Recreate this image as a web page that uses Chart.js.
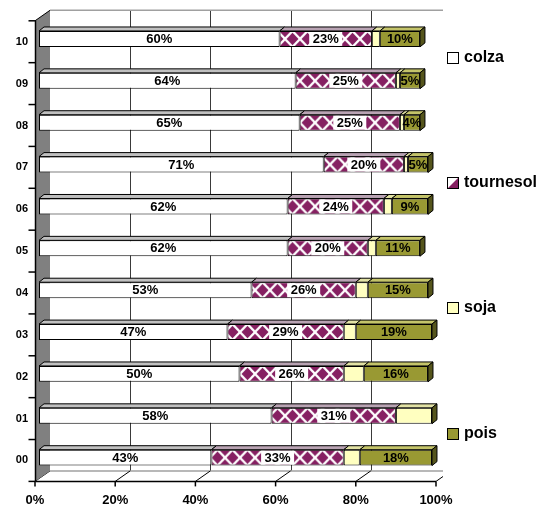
<!DOCTYPE html>
<html>
<head>
<meta charset="utf-8">
<script src="https://cdn.jsdelivr.net/npm/chart.js@4"></script>
<style>
  html, body { margin: 0; padding: 0; background: #fff; }
</style>
</head>
<body>
<canvas id="myChart" width="539" height="508"></canvas>
<script>
// data (percent of area per year)
const years = ['10', '09', '08', '07', '06', '05', '04', '03', '02', '01', '00'];
const colza = [60, 64, 65, 71, 62, 62, 53, 47, 50, 58, 43];
const tournesol = [23, 25, 25, 20, 24, 20, 26, 29, 26, 31, 33];
const soja = [2, 1, 1, 1, 2, 2, 3, 3, 5, 9, 4];
const pois = [10, 5, 4, 5, 9, 11, 15, 19, 16, null, 18];
const xTicks = [0, 20, 40, 60, 80, 100];

const FONT = '"Liberation Sans", Arial, sans-serif';
const PURPLE = '#862062';

// fake 3d depth, in px
const FRONT = { dx: -4, dy: 2.8 };
const BACK = { dx: 11, dy: -7.7 };
const BAR3D = { dx: 5, dy: -4 };
const CLIP_RIGHT = 443;

// diamond tile for tournesol
const tile = document.createElement('canvas');
tile.width = 15;
tile.height = 16;
(() => {
    const t = tile.getContext('2d');
    t.fillStyle = '#fff';
    t.fillRect(0, 0, 15, 16);
    t.fillStyle = PURPLE;
    const diamond = (cx, cy) => {
        t.beginPath();
        t.moveTo(cx - 6, cy);
        t.lineTo(cx, cy - 6.2);
        t.lineTo(cx + 6, cy);
        t.lineTo(cx, cy + 6.2);
        t.closePath();
        t.fill();
    };
    diamond(7.5, 8);
    diamond(0, 0); diamond(15, 0); diamond(0, 16); diamond(15, 16);
})();

const tournesolFill = (c) => {
    const sc = c.chart.scales && c.chart.scales.y;
    if (!sc || c.dataIndex === undefined) return PURPLE;
    const p = c.chart.ctx.createPattern(tile, 'repeat');
    p.setTransform(new DOMMatrix().translate(0, sc.getPixelForValue(c.dataIndex) - 8));
    return p;
};

const series = [
    { label: 'colza', data: colza, color: '#ffffff', top: '#c0c0c0' },
    { label: 'tournesol', data: tournesol, color: tournesolFill, top: '#b9a3b3' },
    { label: 'soja', data: soja, color: '#ffffc0', top: '#e2e2a4' },
    { label: 'pois', data: pois, color: '#999933', top: '#c4c46a' }
];

// back wall, floor, left wall and front axes
const framePlugin = {
    id: 'frame',
    beforeDatasetsDraw(chart) {
        const ctx = chart.ctx;
        const x = chart.scales.x;
        const a = chart.chartArea;
        const fx = v => x.getPixelForValue(v) + FRONT.dx;
        const bx = v => x.getPixelForValue(v) + BACK.dx;
        const ft = a.top + FRONT.dy, fb = a.bottom + FRONT.dy;
        const bt = a.top + BACK.dy, bb = a.bottom + BACK.dy;

        ctx.save();
        ctx.beginPath();
        ctx.rect(0, 0, CLIP_RIGHT, chart.height);
        ctx.clip();

        // back grid lines
        ctx.strokeStyle = '#3a3a3a';
        ctx.lineWidth = 1;
        xTicks.slice(1).forEach(v => {
            ctx.beginPath();
            ctx.moveTo(Math.round(bx(v)) + 0.5, bt);
            ctx.lineTo(Math.round(bx(v)) + 0.5, bb);
            ctx.stroke();
        });
        // top edge of back wall
        ctx.strokeStyle = '#a0a0a0';
        ctx.lineWidth = 1.5;
        ctx.beginPath();
        ctx.moveTo(bx(0), bt);
        ctx.lineTo(CLIP_RIGHT, bt);
        ctx.stroke();

        // floor
        ctx.fillStyle = '#ffffff';
        ctx.beginPath();
        ctx.moveTo(fx(0), fb);
        ctx.lineTo(fx(100), fb);
        ctx.lineTo(bx(100), bb);
        ctx.lineTo(bx(0), bb);
        ctx.closePath();
        ctx.fill();
        ctx.strokeStyle = '#a0a0a0';
        ctx.beginPath();
        ctx.moveTo(bx(0), bb);
        ctx.lineTo(CLIP_RIGHT, bb);
        ctx.stroke();
        ctx.strokeStyle = '#000';
        ctx.lineWidth = 1;
        xTicks.forEach(v => {
            ctx.beginPath();
            ctx.moveTo(fx(v), fb);
            ctx.lineTo(bx(v), bb);
            ctx.stroke();
        });
        ctx.restore();

        ctx.save();
        // left wall
        ctx.fillStyle = '#808080';
        ctx.beginPath();
        ctx.moveTo(fx(0), ft);
        ctx.lineTo(bx(0), bt);
        ctx.lineTo(bx(0), bb);
        ctx.lineTo(fx(0), fb);
        ctx.closePath();
        ctx.fill();
        ctx.strokeStyle = '#000';
        ctx.lineWidth = 1;
        ctx.beginPath();
        ctx.moveTo(fx(0), ft);
        ctx.lineTo(bx(0), bt);
        ctx.stroke();

        // front vertical axis with category ticks
        const x0 = Math.round(fx(0)) + 0.5;
        ctx.lineWidth = 1.5;
        ctx.beginPath();
        ctx.moveTo(x0, ft);
        ctx.lineTo(x0, fb);
        ctx.stroke();
        const step = (a.bottom - a.top) / years.length;
        for (let i = 0; i <= years.length; i++) {
            const yy = a.top + i * step + FRONT.dy;
            ctx.beginPath();
            ctx.moveTo(x0 - 7, yy);
            ctx.lineTo(x0, yy);
            ctx.stroke();
        }
        // front horizontal axis
        ctx.beginPath();
        ctx.moveTo(x0, fb);
        ctx.lineTo(fx(100), fb);
        ctx.stroke();
        xTicks.forEach(v => {
            ctx.beginPath();
            ctx.moveTo(fx(v), fb);
            ctx.lineTo(fx(v), fb + 5);
            ctx.stroke();
        });
        ctx.restore();
    }
};

// top faces, end caps and value labels
const barPlugin = {
    id: 'bar3d',
    afterDatasetsDraw(chart) {
        const ctx = chart.ctx;
        ctx.save();
        ctx.lineWidth = 1;
        ctx.strokeStyle = '#000';
        years.forEach((yr, i) => {
            let last = null;
            series.forEach((s, d) => {
                const el = chart.getDatasetMeta(d).data[i];
                const v = s.data[i];
                if (v === null || v === undefined || !el) return;
                const p = el.getProps(['x', 'y', 'base', 'height'], true);
                const top = p.y - p.height / 2;
                ctx.fillStyle = s.top;
                ctx.beginPath();
                ctx.moveTo(p.base, top);
                ctx.lineTo(p.x, top);
                ctx.lineTo(p.x + BAR3D.dx, top + BAR3D.dy);
                ctx.lineTo(p.base + BAR3D.dx, top + BAR3D.dy);
                ctx.closePath();
                ctx.fill();
                ctx.stroke();
                if (!last || p.x > last.x) last = p;
            });
            if (last) {
                const top = last.y - last.height / 2, bot = last.y + last.height / 2;
                ctx.fillStyle = '#55551c';
                ctx.beginPath();
                ctx.moveTo(last.x, top);
                ctx.lineTo(last.x + BAR3D.dx, top + BAR3D.dy);
                ctx.lineTo(last.x + BAR3D.dx, bot + BAR3D.dy);
                ctx.lineTo(last.x, bot);
                ctx.closePath();
                ctx.fill();
                ctx.stroke();
            }
        });

        // labels on colza, tournesol and pois
        ctx.font = 'bold 13px ' + FONT;
        ctx.textAlign = 'center';
        ctx.textBaseline = 'middle';
        [0, 1, 3].forEach(d => {
            const meta = chart.getDatasetMeta(d);
            series[d].data.forEach((v, i) => {
                if (v === null) return;
                const p = meta.data[i].getProps(['x', 'y', 'base', 'height'], true);
                const cx = (p.x + p.base) / 2;
                const txt = v + '%';
                if (d === 1) {
                    const w = ctx.measureText(txt).width + 7;
                    ctx.fillStyle = '#fff';
                    ctx.fillRect(cx - w / 2, p.y - p.height / 2 + 1, w, p.height - 2);
                }
                ctx.fillStyle = '#000';
                ctx.fillText(txt, cx, p.y + 0.5);
            });
        });
        ctx.restore();
    }
};

// legend on the right, spread along the height
const legendPlugin = {
    id: 'sideLegend',
    afterDraw(chart) {
        const ctx = chart.ctx;
        const ys = [57.5, 183, 308, 434];
        ctx.save();
        ctx.font = 'bold 16px ' + FONT;
        ctx.textBaseline = 'middle';
        ctx.textAlign = 'left';
        series.forEach((s, i) => {
            const y = ys[i];
            const bx = 447.5, by = Math.round(y - 6) + 0.5;
            if (i === 1) {
                ctx.fillStyle = '#fff';
                ctx.fillRect(bx, by, 11, 11);
                ctx.fillStyle = PURPLE;
                ctx.beginPath();
                ctx.moveTo(bx + 11, by);
                ctx.lineTo(bx + 11, by + 11);
                ctx.lineTo(bx, by + 11);
                ctx.closePath();
                ctx.fill();
            } else {
                ctx.fillStyle = s.color;
                ctx.fillRect(bx, by, 11, 11);
            }
            ctx.strokeStyle = '#000';
            ctx.lineWidth = 1;
            ctx.strokeRect(bx, by, 11, 11);
            ctx.fillStyle = '#000';
            ctx.fillText(s.label, 464, y);
        });
        ctx.restore();
    }
};

const ctx = document.getElementById('myChart').getContext('2d');
const myChart = new Chart(ctx, {
    type: 'bar',
    data: {
        labels: years,
        datasets: series.map(s => ({
            label: s.label,
            data: s.data,
            backgroundColor: s.color,
            borderColor: '#000',
            borderWidth: 1,
            borderSkipped: false,
            barPercentage: 0.38,
            categoryPercentage: 1
        }))
    },
    options: {
        indexAxis: 'y',
        responsive: false,
        animation: false,
        devicePixelRatio: 1,
        layout: { padding: { top: 18, right: 99, left: 0, bottom: 0 } },
        plugins: {
            legend: { display: false },
            tooltip: { enabled: false }
        },
        scales: {
            x: {
                stacked: true,
                min: 0,
                max: 100,
                grid: { display: false },
                border: { display: false },
                ticks: {
                    stepSize: 20,
                    callback: v => v + '%',
                    color: '#000',
                    font: { family: FONT, size: 13, weight: 'bold' },
                    labelOffset: FRONT.dx,
                    padding: 6,
                    maxRotation: 0
                },
                afterFit: s => { s.height = 29.4; }
            },
            y: {
                stacked: true,
                grid: { display: false },
                border: { display: false },
                ticks: {
                    color: '#000',
                    font: { family: FONT, size: 11, weight: 'bold' },
                    labelOffset: FRONT.dy,
                    padding: 3
                },
                afterFit: s => { s.width = 39; }
            }
        }
    },
    plugins: [framePlugin, barPlugin, legendPlugin]
});
</script>
</body>
</html>
